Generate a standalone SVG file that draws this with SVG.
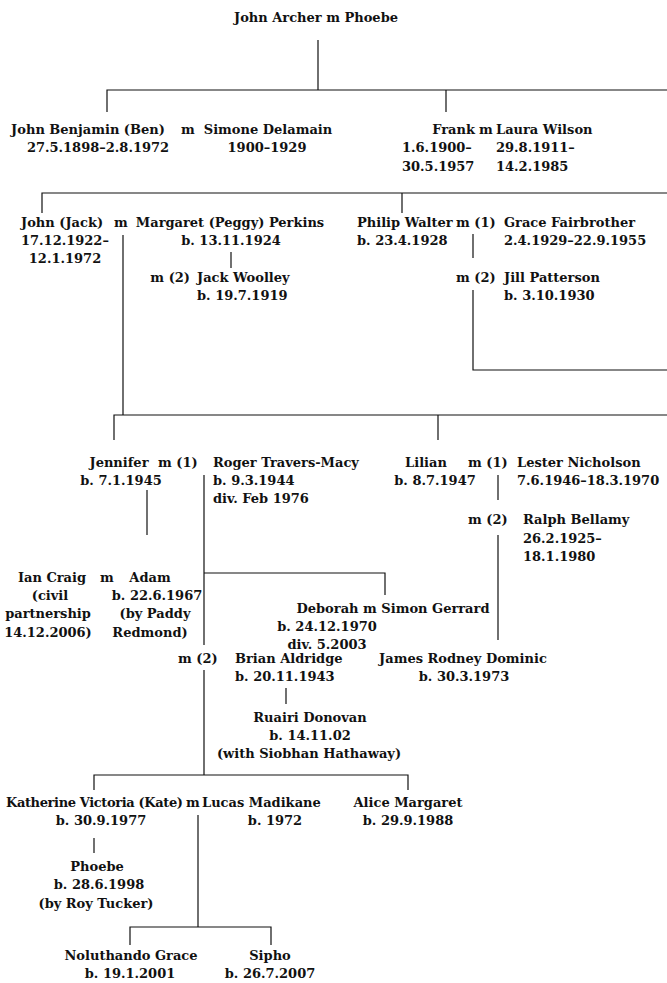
<svg xmlns="http://www.w3.org/2000/svg" width="667" height="983" viewBox="0 0 667 983">
<style>
text{font-family:"DejaVu Serif","Liberation Serif",serif;font-size:13px;font-weight:bold;fill:#111}
.c{text-anchor:middle}
.e{text-anchor:end}
.ln{stroke:#111;stroke-width:1.2;fill:none}
</style>
<rect width="667" height="983" fill="#fff"/>
<g id="connectors" class="ln">
<path d="M318 40V90M107 112V90H667M446 90V112"/>
<path d="M42 213V193H667M402 193V213"/>
<path d="M231 252V268"/>
<path d="M473 234V258M473 290V370H667"/>
<path d="M123 235V415M114 440V415H667M438 415V440"/>
<path d="M498 475V500M498 535V640"/>
<path d="M147 490V535"/>
<path d="M204 475V645M204 573H385V595"/>
<path d="M286 688V704"/>
<path d="M204 670V775M94 790V775H408V790"/>
<path d="M94 838V853"/>
<path d="M198 815V927M130 945V927H271V945"/>
</g>
<g id="n-john-archer"><text class="c" x="316" y="22">John Archer m Phoebe</text></g>
<g id="n-ben"><text class="c" x="88" y="134">John Benjamin (Ben)</text><text class="c" x="188" y="134">m</text><text class="c" x="268" y="134">Simone Delamain</text><text class="c" x="98" y="152">27.5.1898–2.8.1972</text><text class="c" x="267" y="152">1900–1929</text></g>
<g id="n-frank"><text class="e" x="475" y="134">Frank</text><text class="c" x="486" y="134">m</text><text x="496" y="134">Laura Wilson</text><text x="402" y="152">1.6.1900–</text><text x="496" y="152">29.8.1911–</text><text x="402" y="171">30.5.1957</text><text x="496" y="171">14.2.1985</text></g>
<g id="n-jack"><text x="21" y="227">John (Jack)</text><text class="c" x="121" y="227">m</text><text class="c" x="230" y="227">Margaret (Peggy) Perkins</text><text x="21" y="245">17.12.1922–</text><text class="c" x="65" y="263">12.1.1972</text><text class="c" x="231" y="245">b. 13.11.1924</text><text class="e" x="190" y="282">m (2)</text><text x="197" y="282">Jack Woolley</text><text x="197" y="300">b. 19.7.1919</text></g>
<g id="n-philip"><text x="357" y="227">Philip Walter</text><text x="456" y="227">m (1)</text><text x="504" y="227">Grace Fairbrother</text><text x="357" y="245">b. 23.4.1928</text><text x="504" y="245">2.4.1929–22.9.1955</text><text x="456" y="282">m (2)</text><text x="504" y="282">Jill Patterson</text><text x="504" y="300">b. 3.10.1930</text></g>
<g id="n-jennifer"><text class="c" x="119" y="467">Jennifer</text><text class="c" x="121" y="485">b. 7.1.1945</text><text x="158" y="467">m (1)</text><text x="213" y="467">Roger Travers-Macy</text><text x="213" y="485">b. 9.3.1944</text><text x="213" y="503">div. Feb 1976</text></g>
<g id="n-lilian"><text class="c" x="426" y="467">Lilian</text><text class="c" x="435" y="485">b. 8.7.1947</text><text x="468" y="467">m (1)</text><text x="517" y="467">Lester Nicholson</text><text x="517" y="485">7.6.1946–18.3.1970</text><text x="468" y="524">m (2)</text><text x="523" y="524">Ralph Bellamy</text><text x="523" y="543">26.2.1925–</text><text x="523" y="561">18.1.1980</text></g>
<g id="n-adam"><text class="c" x="52" y="582">Ian Craig</text><text class="c" x="107" y="582">m</text><text class="c" x="150" y="582">Adam</text><text class="c" x="50" y="600">(civil</text><text class="c" x="157" y="600">b. 22.6.1967</text><text class="c" x="48" y="618">partnership</text><text class="c" x="155" y="618">(by Paddy</text><text class="c" x="48" y="637">14.12.2006)</text><text class="c" x="150" y="637">Redmond)</text></g>
<g id="n-deborah"><text class="c" x="393" y="613">Deborah m Simon Gerrard</text><text class="c" x="327" y="631">b. 24.12.1970</text><text class="c" x="327" y="649">div. 5.2003</text></g>
<g id="n-brian"><text x="178" y="663">m (2)</text><text x="235" y="663">Brian Aldridge</text><text x="235" y="681">b. 20.11.1943</text></g>
<g id="n-ruairi"><text class="c" x="310" y="722">Ruairi Donovan</text><text class="c" x="310" y="740">b. 14.11.02</text><text class="c" x="309" y="758">(with Siobhan Hathaway)</text></g>
<g id="n-james"><text class="c" x="463" y="663">James Rodney Dominic</text><text class="c" x="464" y="681">b. 30.3.1973</text></g>
<g id="n-kate"><text x="6" y="807" textLength="177">Katherine Victoria (Kate)</text><text class="c" x="193" y="807">m</text><text x="202" y="807">Lucas Madikane</text><text class="c" x="101" y="825">b. 30.9.1977</text><text class="c" x="275" y="825">b. 1972</text></g>
<g id="n-alice"><text class="c" x="408" y="807">Alice Margaret</text><text class="c" x="408" y="825">b. 29.9.1988</text></g>
<g id="n-phoebe"><text class="c" x="97" y="871">Phoebe</text><text class="c" x="99" y="889">b. 28.6.1998</text><text class="c" x="96" y="908">(by Roy Tucker)</text></g>
<g id="n-noluthando"><text class="c" x="131" y="960">Noluthando Grace</text><text class="c" x="130" y="978">b. 19.1.2001</text></g>
<g id="n-sipho"><text class="c" x="270" y="960">Sipho</text><text class="c" x="270" y="978">b. 26.7.2007</text></g>
</svg>
